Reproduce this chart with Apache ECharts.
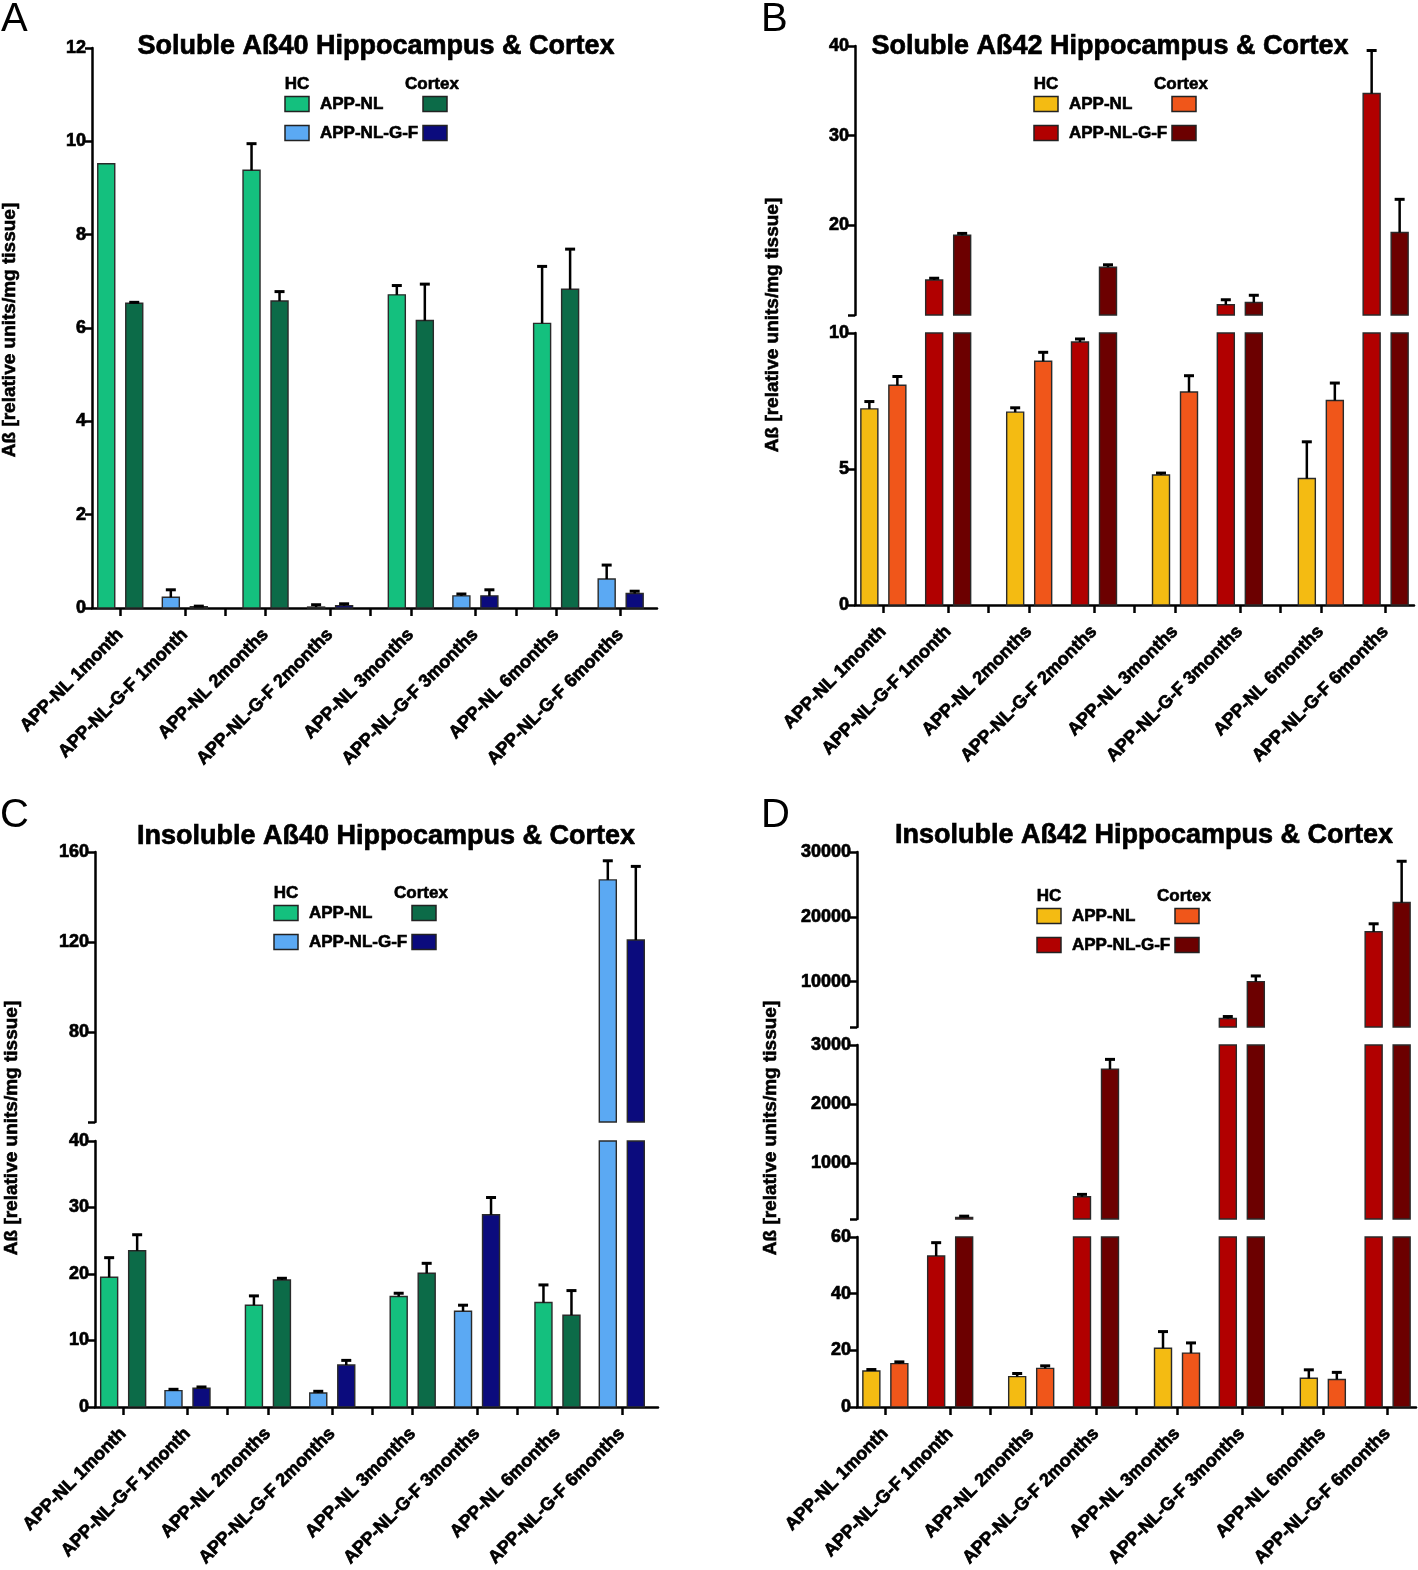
<!DOCTYPE html>
<html><head><meta charset="utf-8">
<script src="https://cdn.jsdelivr.net/npm/echarts/dist/echarts.min.js"></script>
<style>html,body{margin:0;padding:0;background:#fff}#c{width:1418px;height:1570px}</style>
</head><body><div id="c"></div>
<script>
// ---------- data ----------
const categories = ['APP-NL 1month','APP-NL-G-F 1month','APP-NL 2months','APP-NL-G-F 2months',
                    'APP-NL 3months','APP-NL-G-F 3months','APP-NL 6months','APP-NL-G-F 6months'];
const genotype = [0,1,0,1,0,1,0,1]; // 0 = APP-NL, 1 = APP-NL-G-F

// A: Soluble Aß40
const hcA     = [9.52, 0.23, 9.38, 0.02, 6.71, 0.26, 6.10, 0.62];
const hcAErr  = [0.00, 0.16, 0.57, 0.05, 0.20, 0.04, 1.22, 0.30];
const ctxA    = [6.53, 0.03, 6.58, 0.05, 6.16, 0.26, 6.83, 0.31];
const ctxAErr = [0.02, 0.01, 0.20, 0.04, 0.78, 0.13, 0.86, 0.05];
// B: Soluble Aß42
const hcB     = [7.21, 13.9, 7.09, 9.67, 4.78, 11.15, 4.65, 34.7];
const hcBErr  = [0.27, 0.2, 0.16, 0.11, 0.07, 0.55, 1.35, 4.8];
const ctxB    = [8.08, 18.9, 8.96, 15.33, 7.83, 11.4, 7.52, 19.2];
const ctxBErr = [0.32, 0.2, 0.33, 0.27, 0.6, 0.8, 0.64, 3.7];
// C: Insoluble Aß40
const hcC     = [19.5, 2.45, 15.3, 2.1, 16.6, 14.4, 15.7, 147.6];
const hcCErr  = [2.95, 0.2, 1.4, 0.25, 0.5, 0.9, 2.65, 8.5];
const ctxC    = [23.5, 2.8, 19.1, 6.3, 20.1, 28.9, 13.8, 120.9];
const ctxCErr = [2.4, 0.2, 0.25, 0.7, 1.5, 2.6, 3.7, 32.7];
// D: Insoluble Aß42
const hcD     = [12.7, 53.3, 10.7, 436, 20.7, 4308, 10.1, 17692];
const hcDErr  = [0.5, 4.7, 1.1, 40, 5.9, 307, 3.0, 1231];
const ctxD    = [15.3, 88, 13.6, 2593, 19.0, 10000, 9.7, 22200];
const ctxDErr = [0.6, 20, 0.9, 164, 3.6, 877, 2.5, 6370];

// tick labels per axis segment
const ticksA   = [0, 2, 4, 6, 8, 10, 12];
const ticksBHi = [20, 30, 40];
const ticksBLo = [0, 5, 10];
const ticksCHi = [80, 120, 160];
const ticksCLo = [0, 10, 20, 30, 40];
const ticksDHi = [10000, 20000, 30000];
const ticksDMid= [1000, 2000, 3000];
const ticksDLo = [0, 20, 40, 60];

const titles = ['Soluble Aß40 Hippocampus & Cortex','Soluble Aß42 Hippocampus & Cortex',
                'Insoluble Aß40 Hippocampus & Cortex','Insoluble Aß42 Hippocampus & Cortex'];
const yName = 'Aß [relative units/mg tissue]';

// ---------- layout / style ----------
const FONT = '"Liberation Sans", Arial, Helvetica, sans-serif';
const greenPal = {hc:['#14c07e','#5ba9f3'], ctx:['#0c6b48','#0b0b7d']};
const redPal   = {hc:['#f4bb12','#b10000'], ctx:['#f0561a','#6c0000']};
const BW = 17, OFF = 14;
const slotPos = [3, 11, 21, 29, 39, 47, 57, 65];
const sepPos = [16, 34, 52];

const panels = [
  {x0:92, width:565, nSlots:70, pal:greenPal, hc:hcA, hcErr:hcAErr, ctx:ctxA, ctxErr:ctxAErr,
   title:{x:376,y:46}, letter:{t:'A',x:1,y:0}, yname:{x:10,y:330}, legend:{x:285,y:104},
   segs:[{top:48, height:560, min:0, max:12, ticks:ticksA, labels:ticksA}]},
  {x0:855, width:559, nSlots:69, pal:redPal, hc:hcB, hcErr:hcBErr, ctx:ctxB, ctxErr:ctxBErr,
   title:{x:1110,y:46}, letter:{t:'B',x:761,y:0}, yname:{x:773,y:325}, legend:{x:1034,y:104},
   segs:[{top:46, height:269, min:10, max:40, ticks:[10].concat(ticksBHi), labels:ticksBHi},
         {top:333, height:272, min:0, max:10, ticks:ticksBLo, labels:ticksBLo}]},
  {x0:95, width:563, nSlots:70, pal:greenPal, hc:hcC, hcErr:hcCErr, ctx:ctxC, ctxErr:ctxCErr,
   title:{x:386,y:836}, letter:{t:'C',x:0,y:796}, yname:{x:12,y:1128}, legend:{x:274,y:913},
   segs:[{top:852, height:270, min:40, max:160, ticks:[40].concat(ticksCHi), labels:ticksCHi},
         {top:1141, height:269, min:0, max:40, ticks:ticksCLo, labels:ticksCLo}]},
  {x0:857, width:559, nSlots:69, pal:redPal, hc:hcD, hcErr:hcDErr, ctx:ctxD, ctxErr:ctxDErr,
   title:{x:1144,y:835}, letter:{t:'D',x:761,y:796}, yname:{x:771,y:1128}, legend:{x:1037,y:916},
   segs:[{top:852, height:175, min:3000, max:30000, ticks:[3000].concat(ticksDHi), labels:ticksDHi},
         {top:1045, height:174, min:60, max:3000, ticks:[60].concat(ticksDMid), labels:ticksDMid},
         {top:1237, height:174, min:0, max:60, ticks:ticksDLo, labels:ticksDLo}]}
];

function makeRender(side, lo, hi, colors) {
  return function (params, api) {
    const slot = api.value(0), v = api.value(1), e = api.value(2), g = api.value(3);
    const base = api.coord([slot, lo]);
    const cx = base[0] + side * OFF;
    const yLo = base[1];
    const children = [];
    if (v > lo) {
      const yT = api.coord([slot, Math.min(v, hi)])[1];
      children.push({type:'rect', shape:{x:cx - BW/2, y:yT, width:BW, height:Math.max(yLo - yT, 0.8)},
        style:{fill:colors[g], stroke:'#2a2a2a', lineWidth:1.4}});
    }
    const top = v + e;
    if (e > 0 && top > lo && v < hi) {
      const y1 = api.coord([slot, Math.max(v, lo)])[1];
      const y2 = api.coord([slot, Math.min(top, hi)])[1];
      children.push({type:'line', shape:{x1:cx, y1:y1, x2:cx, y2:y2}, style:{stroke:'#000', lineWidth:2.5}});
      if (top <= hi) children.push({type:'line', shape:{x1:cx-5, y1:y2, x2:cx+5, y2:y2}, style:{stroke:'#000', lineWidth:3}});
    }
    return {type:'group', children};
  };
}

const heavy = {textBorderColor:'#000', textBorderWidth:0.7};
const grid = [], xAxis = [], yAxis = [], series = [], graphic = [], title = [];
panels.forEach((p, pi) => {
  const slotNames = [];
  const labelMap = {};
  for (let i = 0; i < p.nSlots; i++) slotNames.push('s' + i);
  slotPos.forEach((s, k) => { labelMap[s] = categories[k]; });
  const tickSet = new Set(slotPos.concat(sepPos));
  p.segs.forEach((s, si) => {
    const gi = grid.length;
    const isBottom = si === p.segs.length - 1;
    grid.push({left:p.x0, top:s.top, width:p.width, height:s.height, containLabel:false});
    xAxis.push({
      gridIndex:gi, type:'category', data:slotNames, boundaryGap:true, show:isBottom,
      axisLine:{show:true, onZero:false, lineStyle:{color:'#000', width:2.5}},
      axisTick:{show:true, alignWithLabel:true, length:8, lineStyle:{color:'#000', width:2.5},
                interval:(i) => tickSet.has(i)},
      axisLabel:Object.assign({interval:(i) => labelMap[i] !== undefined, formatter:(val, i) => labelMap[i] || '',
                 rotate:45, fontSize:18, fontWeight:'bold', fontFamily:FONT, color:'#000', margin:24}, heavy)
    });
    yAxis.push({
      gridIndex:gi, type:'value', min:s.min, max:s.max,
      axisLine:{show:true, lineStyle:{color:'#000', width:2.5}},
      axisTick:{show:true, length:7, lineStyle:{color:'#000', width:2.5}, customValues:s.ticks},
      axisLabel:Object.assign({customValues:s.labels, formatter:(v) => String(v),
                 fontSize:18, fontWeight:'bold', fontFamily:FONT, color:'#000', margin:6}, heavy),
      splitLine:{show:false}
    });
    const mk = (vals, errs) => vals.map((v, k) => [slotPos[k], v, errs[k], genotype[k]]);
    series.push({type:'custom', name:'HC', xAxisIndex:gi, yAxisIndex:gi,
      data:mk(p.hc, p.hcErr), encode:{x:0, y:1},
      renderItem:makeRender(-1, s.min, s.max, p.pal.hc)});
    series.push({type:'custom', name:'Cortex', xAxisIndex:gi, yAxisIndex:gi,
      data:mk(p.ctx, p.ctxErr), encode:{x:0, y:1},
      renderItem:makeRender(1, s.min, s.max, p.pal.ctx)});
  });
  title.push({text:titles[pi], left:p.title.x, top:p.title.y - 13, textAlign:'center', padding:0,
    textStyle:Object.assign({fontSize:27, fontWeight:'bold', fontFamily:FONT, color:'#000'}, heavy)});
  graphic.push({type:'text', left:p.letter.x, top:p.letter.y,
    style:{text:p.letter.t, font:'40px ' + FONT, fill:'#000'}});
  graphic.push({type:'text', x:p.yname.x, y:p.yname.y, rotation:Math.PI/2,
    style:{text:yName, font:'bold 19px ' + FONT, fill:'#000', stroke:'#000', lineWidth:0.6,
           align:'center', verticalAlign:'middle'}});
  const L = p.legend;
  const txt = (t, x, y, align) => graphic.push({type:'text', x:x, y:y,
    style:{text:t, font:'bold 17px ' + FONT, fill:'#000', stroke:'#000', lineWidth:0.6,
           align:align, verticalAlign:'middle'}});
  txt('HC', L.x + 12, L.y - 20, 'center');
  txt('Cortex', L.x + 147, L.y - 20, 'center');
  txt('APP-NL', L.x + 35, L.y, 'left');
  txt('APP-NL-G-F', L.x + 35, L.y + 29, 'left');
  [[0, L.y], [1, L.y + 29]].forEach(([g, y]) => {
    graphic.push({type:'rect', shape:{x:L.x, y:y - 7.5, width:24, height:15},
      style:{fill:p.pal.hc[g], stroke:'#222', lineWidth:1.5}});
    graphic.push({type:'rect', shape:{x:L.x + 138, y:y - 7.5, width:24, height:15},
      style:{fill:p.pal.ctx[g], stroke:'#222', lineWidth:1.5}});
  });
});

const chart = echarts.init(document.getElementById('c'), null, {renderer:'canvas'});
chart.setOption({backgroundColor:'#fff', animation:false, title, grid, xAxis, yAxis, series, graphic});
</script></body></html>
